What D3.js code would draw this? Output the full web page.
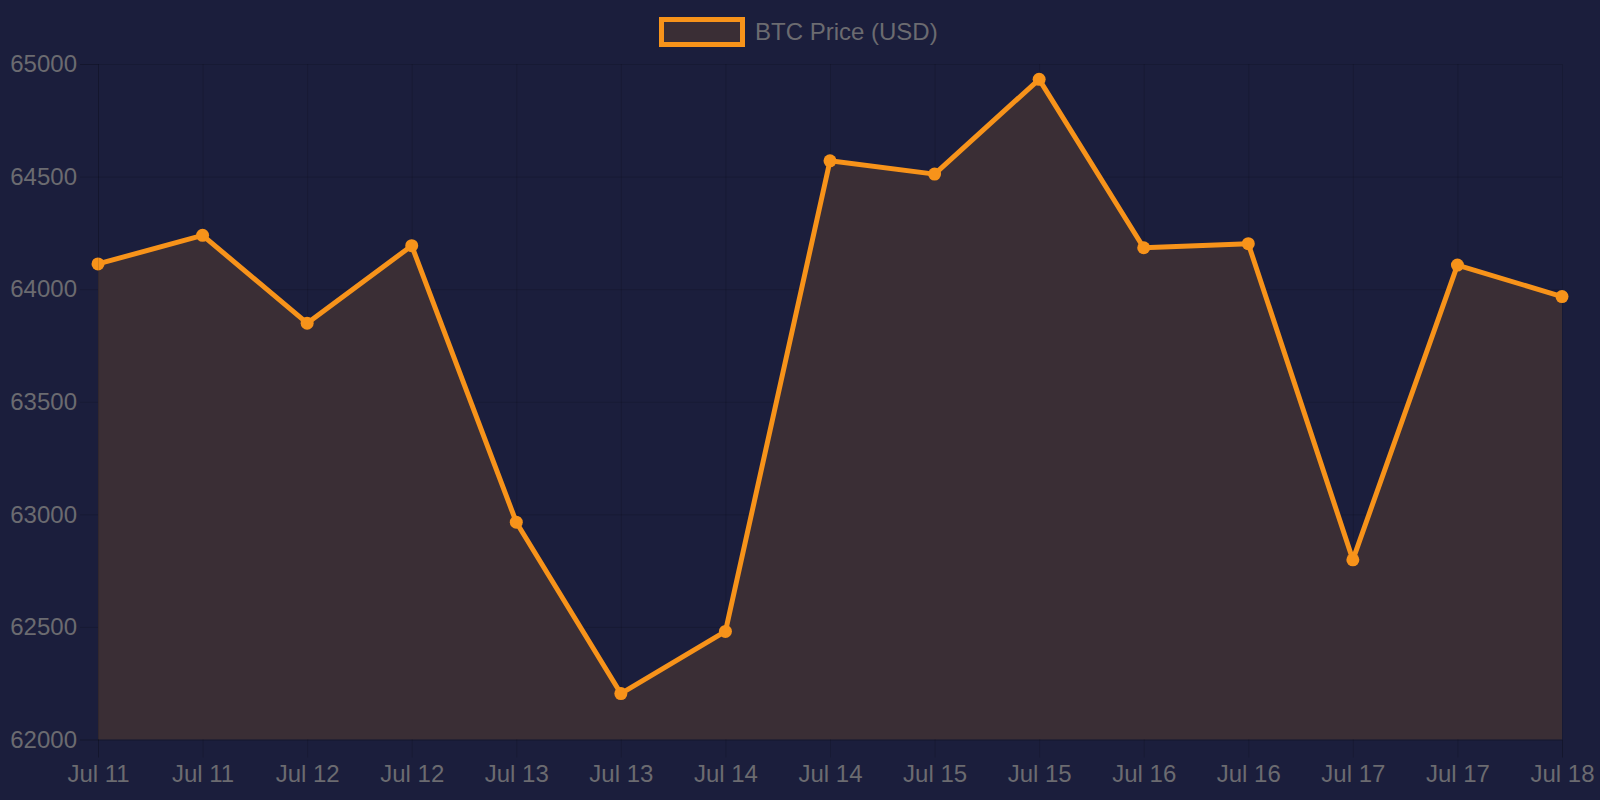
<!DOCTYPE html>
<html><head><meta charset="utf-8">
<script src="https://cdn.jsdelivr.net/npm/d3@7"></script>
<style>html,body{margin:0;padding:0;background:#1b1e3c;}svg{display:block;}</style>
</head><body>
<svg id="c" width="1600" height="800"></svg>
<script>
const labels = ["Jul 11","Jul 11","Jul 12","Jul 12","Jul 13","Jul 13","Jul 14","Jul 14","Jul 15","Jul 15","Jul 16","Jul 16","Jul 17","Jul 17","Jul 18"];
const prices = [64112,64239,63849,64193,62965,62204,62480,64570,64511,64932,64184,64202,62798,64107,63967];
const yTicks = [62000,62500,63000,63500,64000,64500,65000];
const seriesName = "BTC Price (USD)";

const W=1600,H=800, m={l:98,r:38,t:64,b:60.5};
const svg=d3.select("#c");
svg.append("rect").attr("width",W).attr("height",H).attr("fill","#1b1e3c");
const x=d3.scalePoint().domain(d3.range(labels.length)).range([m.l,W-m.r]);
const y=d3.scaleLinear().domain([62000,65000]).range([H-m.b,m.t]);
const font="'Liberation Sans', Arial, sans-serif", tc="#6b6b70", gc="rgba(0,0,0,0.13)";

// grid
const gx=svg.append("g").attr("transform",`translate(0,${H-m.b})`)
  .call(d3.axisBottom(x).tickSize(-(H-m.t-m.b)).tickFormat(""));
gx.select(".domain").remove();
gx.selectAll("line").attr("stroke",gc);
const gy=svg.append("g").attr("transform",`translate(${m.l},0)`)
  .call(d3.axisLeft(y).tickValues(yTicks).tickSize(-(W-m.l-m.r)).tickFormat(""));
gy.select(".domain").remove();
gy.selectAll("line").attr("stroke",gc);

// area + line
const area=d3.area().x((d,i)=>x(i)).y0(y(62000)).y1(d=>y(d));
svg.append("path").datum(prices).attr("d",area).attr("fill","#3a2e35");
const line=d3.line().x((d,i)=>x(i)).y(d=>y(d));
svg.append("path").datum(prices).attr("d",line).attr("fill","none").attr("stroke","#f7931a").attr("stroke-width",5).attr("stroke-linejoin","round");
svg.selectAll("circle.p").data(prices).enter().append("circle").attr("class","p")
  .attr("cx",(d,i)=>x(i)).attr("cy",d=>y(d)).attr("r",6.5).attr("fill","#f7931a");

// axes
const ax=svg.append("g").attr("transform",`translate(0,${H-m.b})`)
  .call(d3.axisBottom(x).tickSize(18).tickPadding(8).tickFormat(i=>labels[i]));
ax.select(".domain").attr("stroke",gc);
ax.selectAll("line").attr("stroke",gc);
ax.selectAll("text").attr("fill",tc).attr("font-family",font).attr("font-size",24).attr("dy","0.45em").attr("y",32);
const ay=svg.append("g").attr("transform",`translate(${m.l},0)`)
  .call(d3.axisLeft(y).tickValues(yTicks).tickSize(18).tickPadding(4).tickFormat(d3.format("d")));
ay.select(".domain").attr("stroke",gc);
ay.selectAll("line").attr("stroke",gc);
ay.selectAll("text").attr("fill",tc).attr("font-family",font).attr("font-size",24).attr("x",-21);

// legend
svg.append("rect").attr("x",661.5).attr("y",19.5).attr("width",81).attr("height",25)
  .attr("fill","#3a2e35").attr("stroke","#f7931a").attr("stroke-width",5);
svg.append("text").attr("x",755).attr("y",32).attr("dy","0.35em").attr("fill",tc)
  .attr("font-family",font).attr("font-size",24).text(seriesName);
</script>
</body></html>
